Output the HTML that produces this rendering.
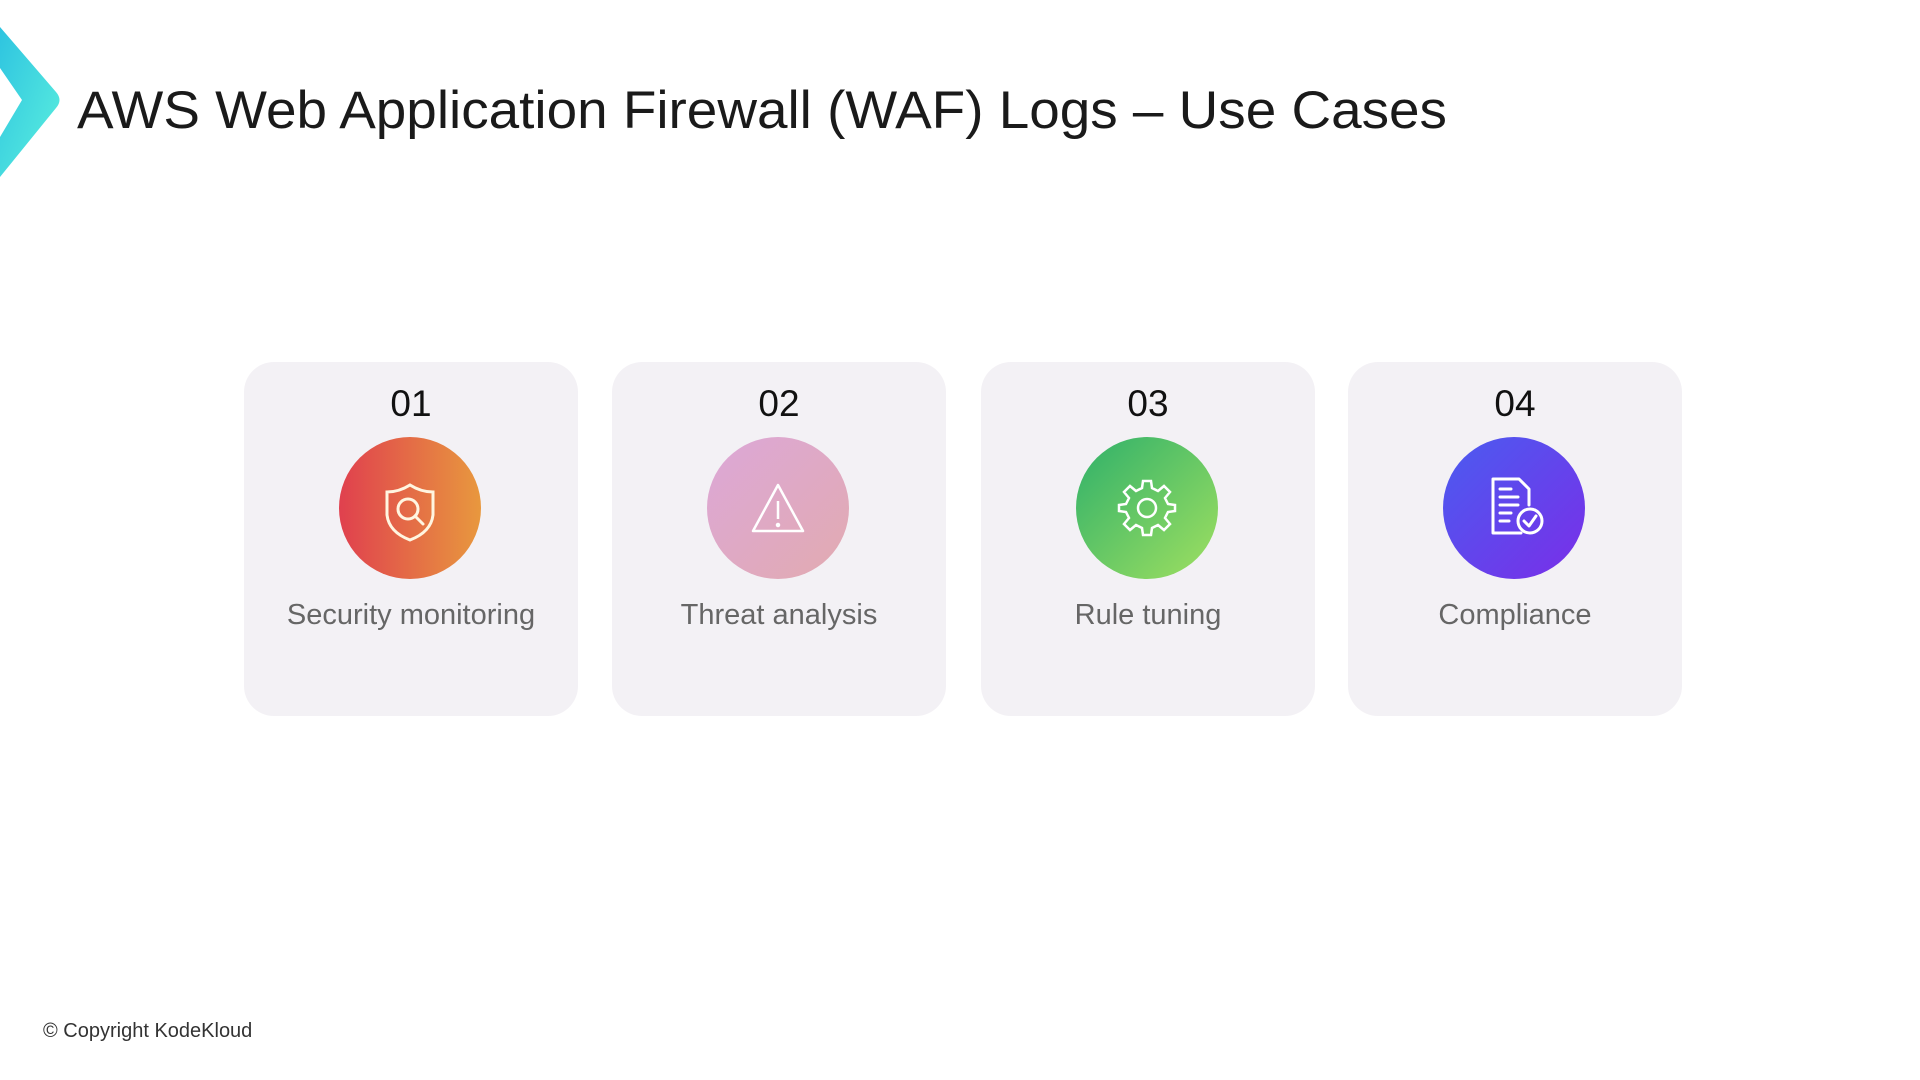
<!DOCTYPE html>
<html><head><meta charset="utf-8"><style>
html,body{margin:0;padding:0;background:#fff;width:1920px;height:1080px;overflow:hidden;font-family:"Liberation Sans",sans-serif}
.card{position:absolute;top:362px;width:334px;height:354px;background:#f3f1f5;border-radius:30px}
.num{position:absolute;top:20px;left:0;width:100%;text-align:center;font-size:37px;color:#111;line-height:44px}
.circ{position:absolute;left:95px;top:75px;width:142px;height:142px;border-radius:50%}
.lbl{position:absolute;top:235px;left:-10px;width:354px;text-align:center;font-size:29px;color:#666;line-height:36px}
.circ svg{position:absolute;left:0;top:0}
</style></head><body>
<svg width="1920" height="200" style="position:absolute;left:0;top:0">
<defs><linearGradient id="cg" x1="0" y1="0" x2="1" y2="1"><stop offset="0" stop-color="#2ec4e0"/><stop offset="1" stop-color="#5cf0de"/></linearGradient></defs>
<path d="M0,27 L56,92 Q63,100 56,108 L0,177 L0,137 L22,100 L0,68 Z" fill="url(#cg)"/>
<text x="77" y="128" font-family="Liberation Sans, sans-serif" font-size="53" fill="#1a1a1a" textLength="1370" lengthAdjust="spacingAndGlyphs">AWS Web Application Firewall (WAF) Logs – Use Cases</text>
</svg>

<div class="card" style="left:244px"><div class="num">01</div>
<div class="circ" style="background:linear-gradient(90deg,#e0404e,#e8983e)">
<svg width="142" height="142" viewBox="0 0 142 142" fill="none" stroke="#fff5e0" stroke-width="3" stroke-linecap="round"><path d="M71,48 Q82,55 94,55 L94,78 Q92,95 71,103 Q50,95 48,78 L48,55 Q60,55 71,48 Z"/><circle cx="69" cy="72" r="10"/><path d="M76,79 L84,87"/></svg></div>
<div class="lbl">Security monitoring</div></div>

<div class="card" style="left:612px"><div class="num">02</div>
<div class="circ" style="background:linear-gradient(135deg,#dca8d8,#e2aab0)">
<svg width="142" height="142" viewBox="0 0 142 142" fill="none" stroke="#fff" stroke-width="2.5" stroke-linejoin="round"><path d="M71,48 L96,94 L46,94 Z"/><path d="M71,64 L71,82"/><circle cx="71" cy="88" r="1" fill="#fff"/></svg></div>
<div class="lbl">Threat analysis</div></div>

<div class="card" style="left:981px"><div class="num">03</div>
<div class="circ" style="background:linear-gradient(135deg,#2eb06a,#a0e060)">
<svg width="142" height="142" viewBox="0 0 142 142" fill="none" stroke="#fff" stroke-width="2.5"><circle cx="71" cy="71" r="9"/><path d="M67,47 L75,47 L76,54 L82,57 L88,52 L94,58 L89,64 L92,70 L99,71 L99,77 L92,78 L89,84 L94,90 L88,96 L82,91 L76,94 L75,101 L67,101 L66,94 L60,91 L54,96 L48,90 L53,84 L50,78 L43,77 L43,71 L50,70 L53,64 L48,58 L54,52 L60,57 L66,54 Z" transform="translate(0,-3)"/></svg></div>
<div class="lbl">Rule tuning</div></div>

<div class="card" style="left:1348px"><div class="num">04</div>
<div class="circ" style="background:linear-gradient(135deg,#4a5cf0,#7a2ee8)">
<svg width="142" height="142" viewBox="0 0 142 142" fill="none" stroke="#fff" stroke-width="3" stroke-linecap="round" stroke-linejoin="round"><path d="M78,96 L50,96 L50,42 L76,42 L86,52 L86,68"/><path d="M57,52 L68,52 M57,60 L75,60 M57,68 L75,68 M57,76 L68,76 M57,84 L66,84"/><circle cx="87" cy="84" r="12"/><path d="M81,84 L86,89 L93,79"/></svg></div>
<div class="lbl">Compliance</div></div>

<div style="position:absolute;left:43px;top:1020px;font-size:20px;color:#333;line-height:22px">© Copyright KodeKloud</div>
</body></html>
